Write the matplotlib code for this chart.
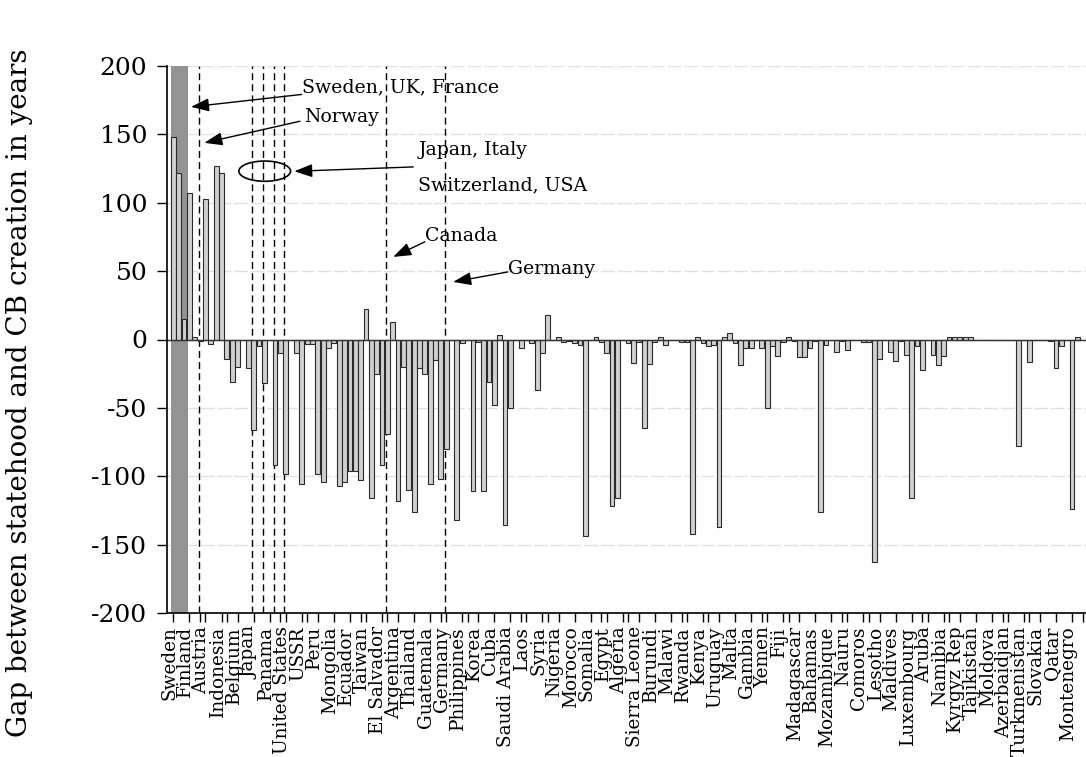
import numpy as np
import matplotlib
matplotlib.use("Agg")
import matplotlib.pyplot as plt
from matplotlib.patches import Ellipse
from matplotlib.transforms import ScaledTranslation

plt.rcParams["font.family"] = ["DejaVu Serif"]
plt.rcParams["axes.unicode_minus"] = False

# gap (years) between statehood and central bank creation, one bar per country
gap = [148, 122, 15, 107, 1.5, -1, 103, -3, 127, 122,
       -14, -31, -20, 0, -21, -66, -5, -32, 0, -92,
       -10, -98, 0, -10, -106, -3.5, -3.5, -98, -104, -6,
       -2.5, -107, -104, -96, -96, -103, 22, -116, -25, -92,
       -69, 12.5, -118, -20, -110, -126, -21, -25, -106, -15,
       -102, -80, 0, -132, -2.5, 0, -111, -2, -111, -31,
       -48, 3, -136, -50, 0, -6, 0, -2.5, -37, -10,
       18, 0, 2, -2, -1, -2.5, -4, -144, 0, 2,
       -2, -10, -122, -116, 0, -2.5, -17, -2, -65, -18,
       -2, 1.5, -4, 0, 0, -1.5, -1.5, -142, 1.5, -2.5,
       -5, -4, -137, 1.5, 4.5, -2.5, -19, -6.5, -6, 0,
       -6, -50, -5, -12, -2, 2, -1, -13, -13, -6,
       -1, -126, -4, 0, -9, -1, -8, -0.5, 0, -2,
       -2, -163, -14, 0, -9, -16, -1, -11, -116, -5,
       -22, 0, -11, -19, -12, 1.5, 1.5, 1.5, 1.5, 1.5,
       0, 0, 0, 0, 0, 0, -0.5, -0.5, -78, 0,
       -16.5, 0, 0, 0, -1, -21, -5, 0, -124, 2]

# every third country is labelled
tick_names = ["Sweden", "Finland", "Austria", "Indonesia", "Belgium", "Japan",
              "Panama", "United States", "USSR", "Peru", "Mongolia", "Ecuador",
              "Taiwan", "El Salvador", "Argentina", "Thailand", "Guatemala",
              "Germany", "Philippines", "Korea", "Cuba", "Saudi Arabia", "Laos",
              "Syria", "Nigeria", "Morocco", "Somalia", "Egypt", "Algeria",
              "Sierra Leone", "Burundi", "Malawi", "Rwanda", "Kenya", "Uruguay",
              "Malta", "Gambia", "Yemen", "Fiji", "Madagascar", "Bahamas",
              "Mozambique", "Nauru", "Comoros", "Lesotho", "Maldives",
              "Luxembourg", "Aruba", "Namibia", "Kyrgyz Rep", "Tajikistan",
              "Moldova", "Azerbaidjan", "Turkmenistan", "Slovakia", "Qatar",
              "Montenegro"]

# countries marked with dashed lines: Norway, Japan, Italy, Switzerland, USA, Canada, Germany
marked = [5, 15, 17, 19, 21, 40, 51]

x = np.arange(len(gap))

fig = plt.figure(figsize=(10.86, 7.57), dpi=100)
ax = fig.add_axes([166.7 / 1086, 1 - 613 / 757, (1086 - 166.7) / 1086, (613 - 66) / 757])

ax.axvspan(-0.5, 2.8, color="#939393", zorder=1, lw=0)
for m in marked:
    ax.axvline(m - 0.25, color="black", lw=1, ls=(0, (5, 3)), zorder=1.5)

ax.bar(x, gap, width=0.9, color="#d0d0d0", edgecolor="#2a2a2a", linewidth=0.8, zorder=2)
ax.axhline(0, color="#333333", lw=1.0, zorder=2.5)

ax.set_xlim(-1.25, 170.6)
ax.set_ylim(-200, 200)
ax.set_yticks(np.arange(-200, 201, 50))
ax.yaxis.grid(True, color="#e2e2e2", lw=1.0, ls=(0, (10, 2)))
ax.set_axisbelow(True)

ax.set_xticks(x[::3][:len(tick_names)])
ax.set_xticklabels(tick_names, rotation=90, fontsize=13.3)
ax.set_xticks(np.arange(5, 171, 5), minor=True)
ax.tick_params(axis="x", which="both", direction="out", length=6.5, width=1, pad=3)
ax.tick_params(axis="y", direction="out", length=7, width=1, pad=7, labelsize=18)
shift = ScaledTranslation(-4 / 100, 0, fig.dpi_scale_trans)
for lab in ax.get_xticklabels():
    lab.set_transform(lab.get_transform() + shift)

for s in ["top", "right"]:
    ax.spines[s].set_visible(False)
for s in ["left", "bottom"]:
    ax.spines[s].set_linewidth(1.2)

fig.text(20 / 1086, 1 - 393 / 757, "Gap between statehood and CB creation in years",
         rotation=90, ha="center", va="center", fontsize=20)

arrow = dict(arrowstyle="-|>,head_length=0.55,head_width=0.2", color="black",
             lw=1, mutation_scale=20, shrinkA=0, shrinkB=0)
fs = 13.6
ax.text(23.98, 184.5, "Sweden, UK, France", fontsize=fs, va="center", ha="left")
ax.annotate("", xy=(3.29, 170.1), xytext=(23.98, 179.2), arrowprops=arrow)
ax.text(24.4, 162.8, "Norway", fontsize=fs, va="center", ha="left")
ax.annotate("", xy=(5.78, 143.8), xytext=(23.66, 159.6), arrowprops=arrow)
ax.add_patch(Ellipse((17.07, 123.1), 9.66, 14.8, fill=False, ec="black", lw=1.2, zorder=4))
ax.text(45.78, 138.9, "Japan, Italy", fontsize=fs, va="center", ha="left")
ax.text(45.78, 112.8, "Switzerland, USA", fontsize=fs, va="center", ha="left")
ax.annotate("", xy=(22.6, 123.0), xytext=(44.84, 126.2), arrowprops=arrow)
ax.text(47.0, 75.8, "Canada", fontsize=fs, va="center", ha="left")
ax.annotate("", xy=(41.1, 60.4), xytext=(47.0, 71.4), arrowprops=arrow)
ax.text(62.6, 51.9, "Germany", fontsize=fs, va="center", ha="left")
ax.annotate("", xy=(52.3, 42.1), xytext=(62.5, 49.4), arrowprops=arrow)

fig.savefig("out.png", dpi=100)
